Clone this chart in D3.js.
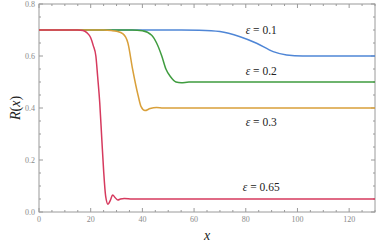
<!DOCTYPE html>
<html><head><meta charset="utf-8">
<script src="https://cdn.jsdelivr.net/npm/d3@7"></script>
<style>body{margin:0;background:#fff}svg{display:block}</style>
</head><body>
<svg id="c" width="382" height="245"></svg>
<script>
const xTicks = [0, 20, 40, 60, 80, 100, 120];
const yTicks = [0.0, 0.2, 0.4, 0.6, 0.8];
const seriesNames = ["ε = 0.1", "ε = 0.2", "ε = 0.3", "ε = 0.65"];
const seriesColors = ["#4f86d6", "#3f9c3f", "#d9a03a", "#d63a5e"];
const x01 = [0, 55, 62, 70, 77.8, 84.2, 90.6, 95.8, 102, 130];
const y01 = [.7, .7, .699, .694, .674, .649, .617, .604, .6, .6];
const x02 = [0, 36, 40, 43.6, 45.5, 47.5, 49.1, 50.9, 53, 55, 58, 130];
const y02 = [.7, .7, .697, .68, .65, .6, .55, .52, .5, .497, .5, .5];
const x03 = [0, 25, 28, 30, 32.5, 34.4, 36.2, 38.3, 39.5, 41, 43, 45.5, 48, 130];
const y03 = [.7, .7, .698, .695, .685, .65, .55, .45, .405, .39, .398, .402, .4, .4];
const x065 = [0, 15, 17, 18.5, 20, 21, 22, 22.7, 23.5, 24.3, 25, 25.8, 26.7, 27.6, 28.5, 29.5, 30.5, 31.5, 33, 36, 130];
const y065 = [.7, .7, .698, .69, .67, .64, .6, .52, .42, .28, .16, .06, .03, .045, .065, .055, .046, .05, .052, .05, .05];
const labelPos = [[86, 0.685], [86, 0.527], [86, 0.331], [86, 0.081]];

const xs = [x01, x02, x03, x065], ys = [y01, y02, y03, y065];
const svg = d3.select("#c");
const L = 39, T = 4, W = 336, H = 208;
const x = d3.scaleLinear().domain([0, 130]).range([L, L + W]);
const y = d3.scaleLinear().domain([0, 0.8]).range([T + H, T]);
const frameCol = "#9a9a9a", labCol = "#8a8a8a";

const g = svg.append("g");
g.append("rect").attr("x", L).attr("y", T).attr("width", W).attr("height", H)
  .attr("fill", "none").attr("stroke", frameCol).attr("stroke-width", 1);

const xMinor = d3.range(0, 131, 5);
const yMinor = d3.range(0, 0.801, 0.05);
xMinor.forEach(v => {
  const major = v % 20 === 0;
  const len = major ? 4 : 2;
  g.append("line").attr("x1", x(v)).attr("x2", x(v)).attr("y1", T + H).attr("y2", T + H - len).attr("stroke", frameCol);
  g.append("line").attr("x1", x(v)).attr("x2", x(v)).attr("y1", T).attr("y2", T + len).attr("stroke", frameCol);
});
yMinor.forEach(v => {
  const major = Math.abs(Math.round(v * 5) - v * 5) < 1e-6;
  const len = major ? 4 : 2;
  g.append("line").attr("y1", y(v)).attr("y2", y(v)).attr("x1", L).attr("x2", L + len).attr("stroke", frameCol);
  g.append("line").attr("y1", y(v)).attr("y2", y(v)).attr("x1", L + W).attr("x2", L + W - len).attr("stroke", frameCol);
});
const font = "'Liberation Serif', 'DejaVu Serif', serif";
xTicks.forEach(v => {
  g.append("text").attr("x", x(v)).attr("y", T + H + 10).attr("text-anchor", "middle")
    .attr("font-family", font).attr("font-size", 8).attr("fill", labCol).text(v);
});
yTicks.forEach(v => {
  g.append("text").attr("x", L - 4).attr("y", y(v) + 3).attr("text-anchor", "end")
    .attr("font-family", font).attr("font-size", 8).attr("fill", labCol).text(v.toFixed(1));
});

const line = d3.line().x(d => x(d[0])).y(d => y(d[1])).curve(d3.curveMonotoneX);
xs.forEach((xa, i) => {
  const pts = xa.map((v, j) => [v, ys[i][j]]);
  g.append("path").datum(pts).attr("d", line).attr("fill", "none")
    .attr("stroke", seriesColors[i]).attr("stroke-width", 1.5).attr("stroke-linejoin", "round");
});

seriesNames.forEach((s, i) => {
  const t = g.append("text").attr("x", x(labelPos[i][0])).attr("y", y(labelPos[i][1]))
    .attr("text-anchor", "middle").attr("font-family", font).attr("font-size", 11.5).attr("fill", "#222");
  t.append("tspan").attr("font-style", "italic").text("ε");
  t.append("tspan").text(" = " + s.split("= ")[1]);
});

g.append("text").attr("x", x(65)).attr("y", 240).attr("text-anchor", "middle")
  .attr("font-family", font).attr("font-style", "italic").attr("font-size", 14).attr("fill", "#222").text("x");
const yl = g.append("text").attr("transform", "translate(20,108) rotate(-90)").attr("text-anchor", "middle")
  .attr("font-family", font).attr("font-size", 14).attr("fill", "#222");
yl.append("tspan").attr("font-style", "italic").text("R");
yl.append("tspan").text("(");
yl.append("tspan").attr("font-style", "italic").text("x");
yl.append("tspan").text(")");
</script>
</body></html>
